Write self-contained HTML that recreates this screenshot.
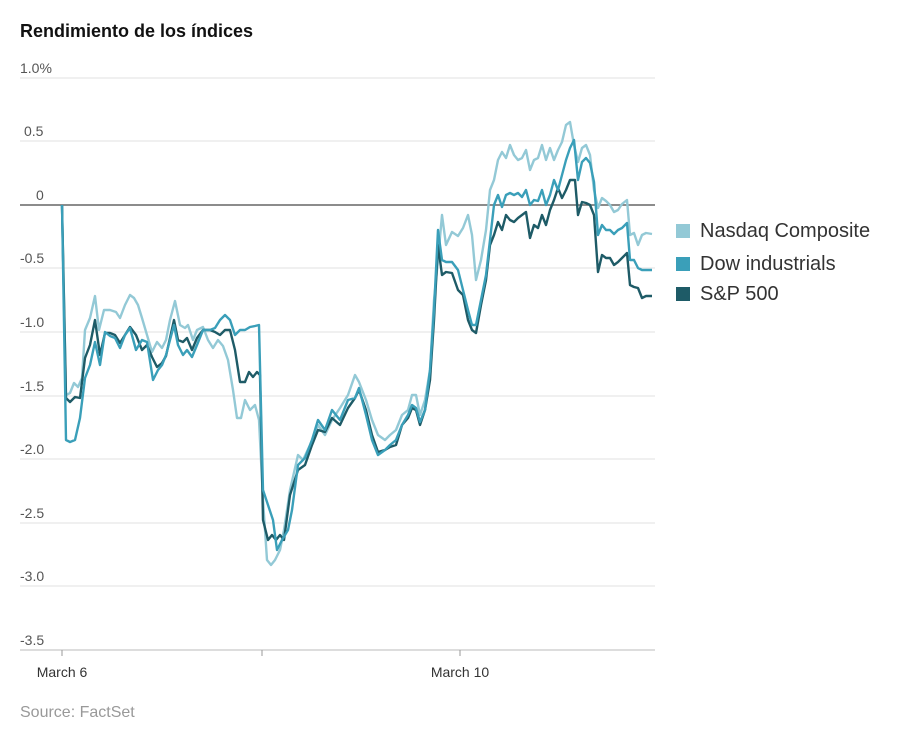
<!DOCTYPE html>
<html><head><meta charset="utf-8"><style>
body{margin:0;background:#fff;font-family:"Liberation Sans",sans-serif;}
</style></head><body>
<svg width="902" height="730" xmlns="http://www.w3.org/2000/svg" font-family="Liberation Sans, sans-serif">
<text x="20" y="37" font-size="18" font-weight="bold" fill="#111">Rendimiento de los índices</text>
<g stroke="#e6e6e6" stroke-width="1.2">
<line x1="20" x2="655" y1="78" y2="78"/><line x1="20" x2="655" y1="141" y2="141"/>
<line x1="20" x2="655" y1="268" y2="268"/><line x1="20" x2="655" y1="332" y2="332"/>
<line x1="20" x2="655" y1="396" y2="396"/><line x1="20" x2="655" y1="459" y2="459"/>
<line x1="20" x2="655" y1="523" y2="523"/><line x1="20" x2="655" y1="586" y2="586"/>
</g>
<line x1="20" x2="655" y1="650" y2="650" stroke="#bbb" stroke-width="1"/>
<line x1="20" x2="655" y1="205" y2="205" stroke="#666" stroke-width="1.5"/>
<g stroke="#999" stroke-width="1"><line x1="62" x2="62" y1="650" y2="656"/><line x1="262" x2="262" y1="650" y2="656"/><line x1="460" x2="460" y1="650" y2="656"/></g>
<g font-size="14" fill="#555">
<text x="20" y="73">1.0%</text><text x="24" y="136">0.5</text><text x="36" y="200">0</text>
<text x="20" y="263">-0.5</text><text x="20" y="327">-1.0</text><text x="20" y="391">-1.5</text>
<text x="20" y="454">-2.0</text><text x="20" y="518">-2.5</text><text x="20" y="581">-3.0</text><text x="20" y="645">-3.5</text>
<text x="62" y="677" text-anchor="middle" fill="#333">March 6</text>
<text x="460" y="677" text-anchor="middle" fill="#333">March 10</text>
</g>
<text x="20" y="717" font-size="16" fill="#999">Source: FactSet</text>
<g fill="none" stroke-width="2.4" stroke-linejoin="round">
<polyline stroke="#93c9d6" points="62,205 66,395 70,393 74,383 78,387 82,378 85,330 90,318 95,296 99,330 104,310 110,310 116,312 120,318 125,305 130,295 134,298 138,305 142,318 147,335 152,352 157,342 162,348 166,340 170,320 175,301 180,325 185,328 188,325 193,340 197,330 203,327 208,340 213,348 218,340 223,346 228,360 233,390 237,418 241,418 245,400 250,410 255,405 259,420 263,500 267,560 271,565 275,560 280,550 284,530 290,490 298,455 303,460 310,445 318,425 325,435 332,420 340,408 348,395 355,375 359,382 366,400 372,420 378,435 385,440 390,435 396,430 402,415 408,410 412,395 416,395 420,415 425,400 430,370 434,300 438,260 442,215 446,245 452,232 458,236 463,228 468,215 472,235 476,280 481,260 486,230 490,190 494,180 498,160 502,152 506,158 510,145 514,155 518,160 522,158 526,150 530,170 534,160 538,158 542,145 546,160 550,148 554,160 558,150 562,142 566,125 570,122 574,145 578,162 582,148 586,145 590,155 594,190 598,208 602,198 606,201 610,205 614,212 618,210 622,204 627,200 630,235 634,233 638,245 642,235 646,233 652,234"/>
<polyline stroke="#1e5b67" points="62,205 66,398 70,402 75,397 80,398 85,358 90,345 95,320 100,355 105,333 110,333 115,335 120,343 125,335 130,327 136,335 142,350 147,345 152,357 157,367 162,363 166,356 174,320 178,340 183,342 187,338 192,350 197,338 203,330 210,330 215,332 220,335 225,330 230,330 235,350 240,382 245,382 249,372 253,377 257,372 260,375 263,520 268,540 272,535 276,540 280,535 284,540 290,495 298,470 305,465 312,445 318,430 325,432 332,418 340,425 348,408 355,398 359,390 366,410 372,435 378,452 385,450 390,447 396,445 402,425 408,418 412,408 416,410 420,425 425,410 430,380 434,320 438,245 442,275 446,272 452,273 458,290 463,295 468,320 472,330 476,333 481,305 486,280 490,245 494,235 498,222 502,230 506,215 510,220 514,222 518,218 522,215 526,212 530,238 534,225 538,228 542,215 546,225 550,210 554,200 558,188 562,198 566,190 570,180 575,180 578,215 582,202 586,203 590,205 594,215 598,272 602,255 606,258 610,258 614,265 618,262 622,258 627,253 630,285 634,287 638,288 642,298 646,296 652,296"/>
<polyline stroke="#3a9fb9" points="62,205 66,440 70,442 75,440 80,418 85,378 90,365 95,342 100,365 105,332 110,336 115,338 120,348 125,335 130,328 136,350 142,340 147,342 153,380 158,370 162,365 166,355 174,325 178,345 183,355 187,350 192,357 197,345 203,330 210,330 215,328 220,320 225,315 230,320 235,335 240,330 245,330 250,327 255,326 259,325 263,490 268,505 273,520 277,550 282,540 288,530 292,510 298,465 305,458 312,440 318,420 325,430 332,410 340,420 348,400 355,398 359,388 366,415 372,440 378,455 385,450 390,445 396,440 402,425 408,415 412,405 416,408 420,422 425,410 430,370 434,310 438,230 442,260 446,262 452,262 458,270 463,290 468,310 472,325 476,325 481,300 486,275 490,240 494,205 498,195 502,207 506,195 510,193 514,195 518,193 522,197 526,190 530,205 534,200 538,201 542,190 546,205 550,195 554,180 558,190 562,175 566,160 570,148 574,140 578,180 582,162 586,158 590,163 594,182 598,235 602,225 606,230 610,230 614,234 618,230 622,228 627,223 630,260 634,260 638,268 642,270 648,270 652,270"/>
</g>
<rect x="676" y="224" width="14" height="14" fill="#93c9d6"/>
<rect x="676" y="257" width="14" height="14" fill="#3a9fb9"/>
<rect x="676" y="287" width="14" height="14" fill="#1e5b67"/>
<g font-size="20" fill="#333">
<text x="700" y="237">Nasdaq Composite</text>
<text x="700" y="270">Dow industrials</text>
<text x="700" y="300">S&amp;P 500</text>
</g>
</svg>
</body></html>
